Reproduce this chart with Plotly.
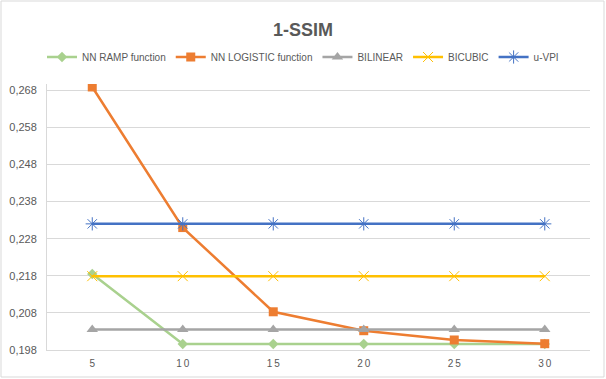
import plotly.graph_objects as go

#%% data
categories = ['5', '10', '15', '20', '25', '30']
tick_text = ['5', '1\u20090', '1\u20095', '2\u20090', '2\u20095', '3\u20090']
nn_ramp = [0.2185, 0.1996, 0.1996, 0.1996, 0.1996, 0.1996]
nn_logistic = [0.2689, 0.2310, 0.2083, 0.2032, 0.2007, 0.1997]
bilinear = [0.2035, 0.2035, 0.2035, 0.2035, 0.2035, 0.2035]
bicubic = [0.2179, 0.2179, 0.2179, 0.2179, 0.2179, 0.2179]
u_vpi = [0.2320, 0.2320, 0.2320, 0.2320, 0.2320, 0.2320]
y_ticks = [0.198, 0.208, 0.218, 0.228, 0.238, 0.248, 0.258, 0.268]

#%% styles
series = [
    ('NN RAMP function', nn_ramp, '#a9d18e', dict(symbol='diamond', size=8)),
    ('NN LOGISTIC function', nn_logistic, '#ed7d31', dict(symbol='square', size=9)),
    ('BILINEAR', bilinear, '#a5a5a5', dict(symbol='triangle-up', size=10)),
    ('BICUBIC', bicubic, '#ffc000', dict(symbol='x-thin-open', size=10, line=dict(width=1, color='#ffc000'))),
    ('u-VPI', u_vpi, '#4472c4', dict(symbol='asterisk-open', size=11, line=dict(width=1, color='#4472c4'))),
]

fig = go.Figure()
for name, vals, color, marker in series:
    fig.add_trace(go.Scatter(
        x=categories, y=vals, name=name, mode='lines+markers',
        line=dict(color=color, width=2.5),
        marker=dict(color=color, **marker),
    ))

ml, mr, mt, mb = 47, 16, 84, 29
W, H = 606, 379
pw, ph = W - ml - mr, H - mt - mb

fig.update_layout(
    width=W, height=H,
    margin=dict(l=ml, r=mr, t=mt, b=mb, autoexpand=False),
    paper_bgcolor='white', plot_bgcolor='white',
    separators=',.',
    font=dict(family='Liberation Sans, Arial, sans-serif', size=11, color='#595959'),
    title=dict(text='<b>1-SSIM</b>', x=0.5, xref='container', xanchor='center',
               y=1 - 30 / H, yref='container', yanchor='middle',
               font=dict(size=18, color='#595959')),
    legend=dict(orientation='h', x=0.5, xref='container', xanchor='center',
                y=1 - 57 / H, yref='container', yanchor='middle',
                font=dict(size=10, color='#595959'), itemwidth=30, tracegroupgap=0),
    xaxis=dict(type='category', range=[-0.5, 5.5], tickvals=categories, ticktext=tick_text,
               showgrid=False, showline=True, linecolor='#d9d9d9', linewidth=1,
               ticks='', tickfont=dict(size=10), ticklabelstandoff=4, fixedrange=True),
    yaxis=dict(range=[0.198, 0.2697], tickvals=y_ticks, tickformat='.3f',
               showgrid=True, gridcolor='#d9d9d9', gridwidth=1,
               showline=True, linecolor='#d9d9d9', linewidth=1,
               zeroline=False, ticks='', tickfont=dict(size=11), ticklabelstandoff=7),
    shapes=[dict(type='rect', xref='paper', yref='paper',
                 x0=-(ml - 1) / pw, x1=1 + (mr - 2) / pw,
                 y0=-(mb - 2) / ph, y1=1 + (mt - 1) / ph,
                 line=dict(color='#d9d9d9', width=1), layer='below')],
)

# page has a default 8px body margin; drop it so the chart fills the window
fig.write_html("out.html", config={'displayModeBar': False},
               post_script="document.body.style.margin='0';")
